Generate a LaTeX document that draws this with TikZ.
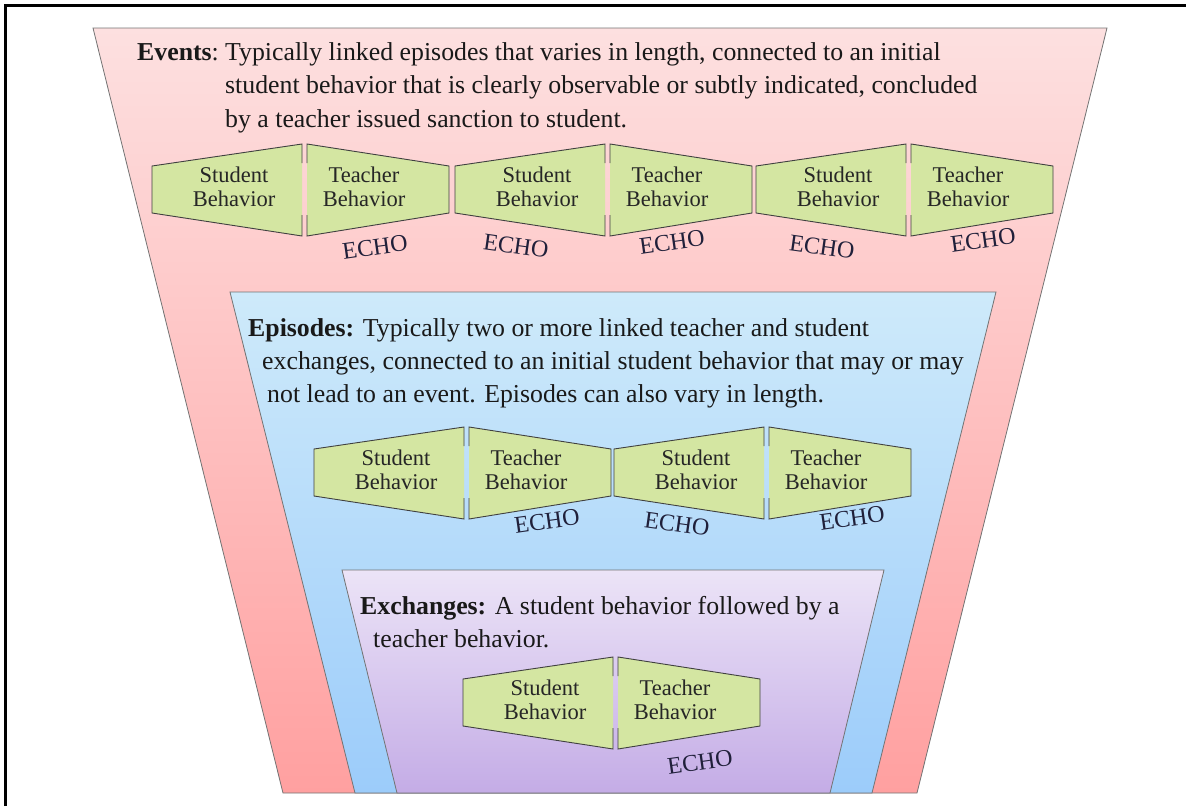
\documentclass[tikz,border=0pt]{standalone}
\usepackage{fontspec}
\setmainfont{Liberation Serif}
\usetikzlibrary{positioning}
\definecolor{eventtop}{RGB}{253,224,224}
\definecolor{eventbot}{RGB}{255,160,160}
\definecolor{episodetop}{RGB}{206,234,250}
\definecolor{episodebot}{RGB}{156,204,250}
\definecolor{exchtop}{RGB}{236,228,247}
\definecolor{exchbot}{RGB}{196,172,230}
\definecolor{behavgreen}{RGB}{212,230,162}
\definecolor{echoink}{RGB}{32,32,58}

% one student/teacher exchange: #1 = left x, #2 = top y, #3 = name
\newcommand{\behavpair}[3]{%
  \begin{scope}[shift={(#1,#2)}]
    \fill[behavgreen] (0,22) -- (150,0) -- (150,92) -- (0,69) -- cycle;
    \fill[behavgreen] (155,0) -- (297,22) -- (297,69) -- (155,92) -- cycle;
    \draw[behavline] (150,19) -- (150,0) -- (0,22) -- (0,69) -- (150,92) -- (150,71);
    \draw[behavline] (155,19) -- (155,0) -- (297,22) -- (297,69) -- (155,92) -- (155,71);
    \node[behavtext] (#3s) at (82,43) {Student\\Behavior};
    \node[behavtext] (#3t) at (212,43) {Teacher\\Behavior};
  \end{scope}}

\begin{document}
\begin{tikzpicture}[x=1pt, y=-1pt,
    funnel/.style={draw=black!55, line width=0.8pt},
    behavline/.style={draw=black!75, line width=0.9pt, line join=miter},
    behavtext/.style={font=\fontsize{22.5}{24}\selectfont, text=black!85, align=center, inner sep=0pt},
    headtext/.style={font=\fontsize{25.8}{33}\selectfont, text=black!90, anchor=base west, inner sep=0pt},
    echo/.style={font=\fontsize{24}{24}\selectfont, text=echoink, inner sep=0pt}]
  \useasboundingbox (0,0) rectangle (1186,806);

  % frame
  \draw[line width=3pt] (5.5,806) -- (5.5,5.5) -- (1186,5.5);

  % funnel layers
  \shade[funnel, top color=eventtop, bottom color=eventbot]
    (93,28) -- (1107,28) -- (917,793) -- (283,793) -- cycle;
  \shade[funnel, top color=episodetop, bottom color=episodebot]
    (230,292) -- (996,292) -- (872,793) -- (355,793) -- cycle;
  \shade[funnel, top color=exchtop, bottom color=exchbot]
    (342,570) -- (884,570) -- (830,793) -- (397,793) -- cycle;

  % events
  \node[headtext] (evlabel) at (137,60) {\textbf{Events}:};
  \node[headtext] (evline1) at (225,60) {Typically linked episodes that varies in length, connected to an initial};
  \node[headtext] (evline2) at (225,93.5) {student behavior that is clearly observable or subtly indicated, concluded};
  \node[headtext] (evline3) at (225,127) {by a teacher issued sanction to student.};
  \behavpair{152}{144}{evA}
  \behavpair{455}{144}{evB}
  \behavpair{756}{144}{evC}
  \node[echo, rotate=8] (echoevA) at (375,247) {ECHO};
  \node[echo, rotate=-8] (echoevB) at (516,246) {ECHO};
  \node[echo, rotate=8] (echoevC) at (672,242) {ECHO};
  \node[echo, rotate=-8] (echoevD) at (822,247) {ECHO};
  \node[echo, rotate=8] (echoevE) at (983,240) {ECHO};

  % episodes
  \node[headtext] (epline1) at (248,336) {\textbf{Episodes:} Typically two or more linked teacher and student};
  \node[headtext] (epline2) at (262,369) {exchanges, connected to an initial student behavior that may or may};
  \node[headtext] (epline3) at (267,402) {not lead to an event. Episodes can also vary in length.};
  \behavpair{314}{427}{epA}
  \behavpair{614}{427}{epB}
  \node[echo, rotate=8] (echoepA) at (547,521) {ECHO};
  \node[echo, rotate=-8] (echoepB) at (677,524) {ECHO};
  \node[echo, rotate=8] (echoepC) at (852,518) {ECHO};

  % exchanges
  \node[headtext] (exline1) at (360,614) {\textbf{Exchanges:} A student behavior followed by a};
  \node[headtext] (exline2) at (373,647) {teacher behavior.};
  \behavpair{463}{657}{exA}
  \node[echo, rotate=8] (echoexA) at (700,762) {ECHO};
\end{tikzpicture}
\end{document}
